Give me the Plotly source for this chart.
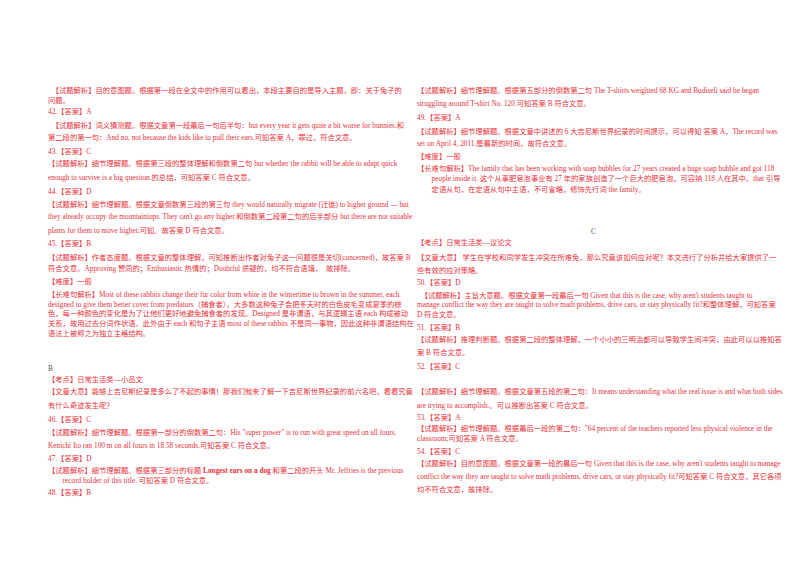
import plotly.graph_objects as go

left_lines = [
    "　【试题解析】目的意图题。根据第一段在全文中的作用可以看出，本段主要目的是导入主题，即：关于兔子的",
    "问题。",
    "42.【答案】A",
    "　【试题解析】词义猜测题。根据文章第一段最后一句后半句：but every year it gets quite a bit worse for bunnies.和",
    "第二段的第一句：And no, not because the kids like to pull their ears.可知答案 A，罪过，符合文意。",
    "43.【答案】C",
    "【试题解析】细节理解题。根据第三段的整体理解和倒数第二句 but whether the rabbit will be able to adapt quick",
    "enough to survive is a big question.的总结，可知答案 C 符合文意。",
    "44.【答案】D",
    "【试题解析】细节理解题。根据文章倒数第三段的第三句 they would naturally migrate (迁徙) to higher ground — but",
    "they already occupy the mountaintops. They can't go any higher.和倒数第二段第二句的后半部分 but there are not suitable",
    "plants for them to move higher,可知。故答案 D 符合文意。",
    "45.【答案】B",
    "【试题解析】作者态度题。根据文章的整体理解，可知推断出作者对兔子这一问题很是关切(concerned)，故答案 B",
    "符合文意。Approving 赞同的；Enthusiastic 热情的；Doubtful 质疑的，均不符合语境，　故排除。",
    "【难度】一般",
    "【长难句解析】Most of these rabbits change their fur color from white in the wintertime to brown in the summer, each",
    "designed to give them better cover from predators（捕食者）。大多数这种兔子会把冬天时的白色皮毛变成夏季的棕",
    "色，每一种颜色的变化是为了让他们更好地避免捕食者的发现。Designed 是非谓语，与其逻辑主语 each 构成被动",
    "关系，故用过去分词作状语。此外由于 each 和句子主语 most of these rabbits 不是同一事物，因此这种非谓语结构在",
    "语法上被称之为独立主格结构。",
    "B",
    "【考点】日常生活类—小品文",
    "【文章大意】能够上吉尼斯纪录是多么了不起的事情！那我们就来了解一下吉尼斯世界纪录的前六名吧，看看究竟",
    "有什么奇迹发生呢？",
    "46.【答案】C",
    "【试题解析】细节理解题。根据第一部分的倒数第二句：His \"super power\" is to run with great speed on all fours.",
    "Kenichi Ito ran 100 m on all fours in 18.58 seconds.可知答案 C 符合文意。",
    "47.【答案】D",
    "【试题解析】细节理解题。根据第三部分的标题 <b>Longest ears on a dog</b> 和第二段的开头 Mr. Jeffries is the previous",
    "　　record holder of this title. 可知答案 D 符合文意。",
    "48.【答案】B",
]
left_y = [82, 92, 104, 117, 130, 143, 156, 169, 183, 196, 209, 222, 235, 249, 261, 273, 286, 296, 305, 315, 325,
          360, 371, 383, 397, 411, 424, 437, 450, 462, 472, 484]

right_lines = [
    "【试题解析】细节理解题。根据第五部分的倒数第二句 The T-shirts weighted 68 KG and Budiseli said he began",
    "struggling around T-shirt No. 120.可知答案 B 符合文意。",
    "49.【答案】A",
    "【试题解析】细节理解题。根据文章中讲述的 6 大吉尼斯世界纪录的时间提示，可以得知 答案 A，The record was",
    "set on April 4, 2011.是最新的时间，故符合文意。",
    "【难度】一般",
    "【长难句解析】The family that has been working with soap bubbles for 27 years created a huge soap bubble and got 118",
    "　　people inside it. 这个从事肥皂泡事业有 27 年的家族创造了一个巨大的肥皂泡，可容纳 118 人在其中。that 引导",
    "　　定语从句，在定语从句中主语，不可省略，修饰先行词 the family。",
    "C",
    "【考点】日常生活类—议论文",
    "【文章大意】 学生在学校和同学发生冲突在所难免，那么究竟该如何应对呢？本文进行了分析并给大家提供了一",
    "些有效的应对策略。",
    "50.【答案】D",
    "　【试题解析】主旨大意题。根据文章第一段最后一句 Given that this is the case, why aren't students taught to",
    "manage conflict the way they are taught to solve math problems, drive cars, or stay physically fit?和整体理解，可知答案",
    "D 符合文意。",
    "51.【答案】B",
    "【试题解析】推理判断题。根据第二段的整体理解，一个小小的三明治都可以导致学生间冲突，由此可以以推知答",
    "案 B 符合文意。",
    "52.【答案】C",
    "【试题解析】细节理解题。根据文章第五段的第二句：It means understanding what the real issue is and what both sides",
    "are trying to accomplish.。可以推断出答案 C 符合文意。",
    "53.【答案】A",
    "【试题解析】细节理解题。根据最后一段的第二句：\"64 percent of the teachers reported less physical violence in the",
    "classroom;可知答案 A 符合文意。",
    "54.【答案】C",
    "【试题解析】目的意图题。根据文章第一段的最后一句 Given that this is the case, why aren't students taught to manage",
    "conflict the way they are taught to solve math problems, drive cars, or stay physically fit?可知答案 C 符合文意，其它各项",
    "均不符合文意，故排除。",
    "【难度】一般",
]
right_y = [83, 96, 109, 123, 135, 148, 160, 171, 181, 223, 234, 249, 262, 274, 287, 296, 306, 319, 332, 344, 358,
           383, 397, 409, 420, 430, 443, 455, 468, 481]

RED = "#e8313a"
GRAY = "#555555"
FONT = "Liberation Serif, Noto Sans CJK SC"

fig = go.Figure()
anns = []
def add(lines, ys, x0, center_x):
    for t, y in zip(lines, ys):
        if t in ("B", "C"):
            xx, anchor, col = (x0 if t == "B" else center_x), ("left" if t == "B" else "center"), GRAY
        else:
            xx, anchor, col = x0, "left", RED
        anns.append(dict(x=xx / 800, y=1 - y / 566, xref="paper", yref="paper", text=t, showarrow=False,
                         xanchor=anchor, yanchor="middle", font=dict(family=FONT, size=7.3, color=col)))
add(left_lines, left_y, 38, 215)
add(right_lines, right_y, 407, 585)

fig.update_layout(width=800, height=566, margin=dict(l=0, r=0, t=0, b=0), paper_bgcolor="white",
                  plot_bgcolor="white", annotations=anns,
                  xaxis=dict(visible=False, range=[0, 1]), yaxis=dict(visible=False, range=[0, 1]))
fig.write_html("out.html")
